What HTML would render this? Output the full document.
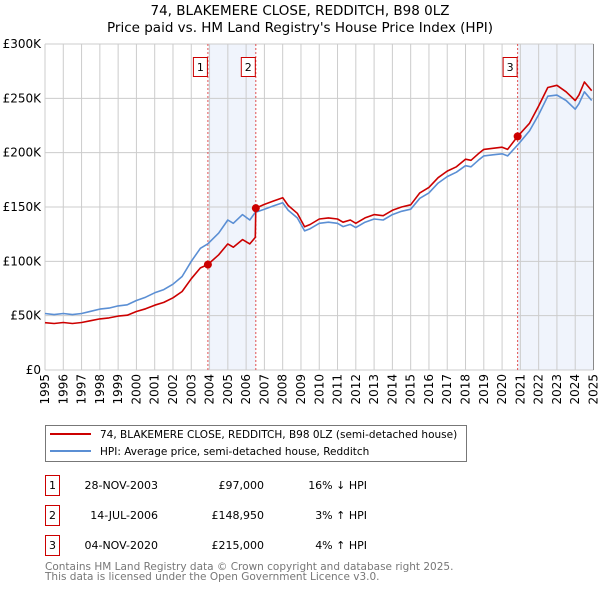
<!DOCTYPE html>
<html><head><meta charset="utf-8"><style>
body{margin:0;background:#fff;font-family:"DejaVu Sans","Liberation Sans",sans-serif;}
svg text{font-family:"DejaVu Sans","Liberation Sans",sans-serif;}
</style></head><body>
<svg id="chart" width="600" height="590" xmlns="http://www.w3.org/2000/svg">
<text x="300" y="15" text-anchor="middle" font-size="13.5">74, BLAKEMERE CLOSE, REDDITCH, B98 0LZ</text>
<text x="300" y="32" text-anchor="middle" font-size="13.5">Price paid vs. HM Land Registry's House Price Index (HPI)</text>
<g id="plot"></g>
<g>
<rect x="45.5" y="425.5" width="421" height="36" fill="#fff" stroke="#777"/>
<line x1="50" y1="434" x2="91" y2="434" stroke="#cc0000" stroke-width="2"/>
<text x="100" y="438" font-size="10.5">74, BLAKEMERE CLOSE, REDDITCH, B98 0LZ (semi-detached house)</text>
<line x1="50" y1="451" x2="91" y2="451" stroke="#5b8fd4" stroke-width="2"/>
<text x="100" y="455" font-size="10.5">HPI: Average price, semi-detached house, Redditch</text>
</g>
<g font-size="11">
<rect x="45.5" y="475.5" width="14" height="20" fill="#fff" stroke="#cc0000"/>
<text x="52.5" y="489" text-anchor="middle">1</text>
<text x="158" y="489" text-anchor="end">28-NOV-2003</text>
<text x="264" y="489" text-anchor="end">£97,000</text>
<text x="367" y="489" text-anchor="end">16% ↓ HPI</text>
<rect x="45.5" y="505.5" width="14" height="20" fill="#fff" stroke="#cc0000"/>
<text x="52.5" y="519" text-anchor="middle">2</text>
<text x="158" y="519" text-anchor="end">14-JUL-2006</text>
<text x="264" y="519" text-anchor="end">£148,950</text>
<text x="367" y="519" text-anchor="end">3% ↑ HPI</text>
<rect x="45.5" y="535.5" width="14" height="20" fill="#fff" stroke="#cc0000"/>
<text x="52.5" y="549" text-anchor="middle">3</text>
<text x="158" y="549" text-anchor="end">04-NOV-2020</text>
<text x="264" y="549" text-anchor="end">£215,000</text>
<text x="367" y="549" text-anchor="end">4% ↑ HPI</text>
</g>
<text x="45" y="570" font-size="10.5" fill="#777">Contains HM Land Registry data © Crown copyright and database right 2025.</text>
<text x="45" y="580" font-size="10.5" fill="#777">This data is licensed under the Open Government Licence v3.0.</text>
</svg>
<script>
const hpiYears=[1995,1995.5,1996,1996.5,1997,1997.5,1998,1998.5,1999,1999.5,2000,2000.5,2001,2001.5,2002,2002.5,2003,2003.5,2003.9,2004.5,2005,2005.3,2005.8,2006.2,2006.5,2007,2007.5,2008,2008.3,2008.8,2009.2,2009.5,2010,2010.5,2011,2011.3,2011.7,2012,2012.5,2013,2013.5,2014,2014.5,2015,2015.5,2016,2016.5,2017,2017.5,2018,2018.3,2018.7,2019,2019.5,2020,2020.3,2020.9,2021.5,2022,2022.5,2023,2023.5,2024,2024.2,2024.5,2024.9];
const hpiValues=[52,51,52,51,52,54,56,57,59,60,64,67,71,74,79,86,100,112,116,126,138,135,143,138,145,148,151,154,147,140,128,130,135,136,135,132,134,131,136,139,138,143,146,148,158,163,172,178,182,188,187,193,197,198,199,197,208,220,235,252,253,248,240,245,256,248];
const redYears=[1995,1995.5,1996,1996.5,1997,1997.5,1998,1998.5,1999,1999.5,2000,2000.5,2001,2001.5,2002,2002.5,2003,2003.5,2003.9,2004.5,2005,2005.3,2005.8,2006.2,2006.5,2006.53,2007,2007.5,2008,2008.3,2008.8,2009.2,2009.5,2010,2010.5,2011,2011.3,2011.7,2012,2012.5,2013,2013.5,2014,2014.5,2015,2015.5,2016,2016.5,2017,2017.5,2018,2018.3,2018.7,2019,2019.5,2020,2020.3,2020.85,2021.5,2022,2022.5,2023,2023.5,2024,2024.2,2024.5,2024.9];
const redValues=[43.5,42.8,43.7,42.8,43.7,45.4,47,47.9,49.6,50.4,53.8,56.3,59.6,62.2,66.4,72.2,84,94,97,106,116,113,120,116,122,149,152.4,155.5,158.6,151.4,144.2,131.8,133.9,139,140,139,136,138,135,140,143,142,147,150,152,163,168,177,183,187,194,193,199,203,204,205,203,215,227,243,260,262,256,248,253,265,257];
const saleLabels=["1","2","3"];
const saleYears=[2003.91,2006.53,2020.85];
const salePrices=[97,148.95,215];
const yTicks=[0,50,100,150,200,250,300];
const yTickLabels=["£0","£50K","£100K","£150K","£200K","£250K","£300K"];
const xTicks=[1995,1996,1997,1998,1999,2000,2001,2002,2003,2004,2005,2006,2007,2008,2009,2010,2011,2012,2013,2014,2015,2016,2017,2018,2019,2020,2021,2022,2023,2024,2025];

const X0=45,X1=593.5,Y0=370,Y1=44;
const xs=v=>X0+(v-1995)/30*(X1-X0);
const ys=v=>Y0-v/300*(Y0-Y1);
const NS="http://www.w3.org/2000/svg";
const plot=document.getElementById('plot');
function mk(tag,attrs,parent){const e=document.createElementNS(NS,tag);for(const k in attrs)e.setAttribute(k,attrs[k]);(parent||plot).appendChild(e);return e;}

let s1=mk('rect',{x:xs(saleYears[0]),y:Y1,width:xs(saleYears[1])-xs(saleYears[0]),height:Y0-Y1,fill:'#f0f4fc'});


let s2=mk('rect',{x:xs(saleYears[2]),y:Y1,width:X1-xs(saleYears[2]),height:Y0-Y1,fill:'#f0f4fc'});



yTicks.forEach((t,i)=>{
  const g=mk('line',{x1:X0,x2:X1,y1:ys(t),y2:ys(t),stroke:'#ccc','stroke-width':1});
  
  
  const l=mk('text',{x:X0-4,y:ys(t)+4,'text-anchor':'end','font-size':12});
  
  
  l.textContent=yTickLabels[i];
});
xTicks.forEach(t=>{
  const g=mk('line',{x1:xs(t),x2:xs(t),y1:Y1,y2:Y0,stroke:'#ccc','stroke-width':1});
  
  
  const l=mk('text',{x:0,y:0,'text-anchor':'end','font-size':12,transform:`translate(${xs(t)+4},374) rotate(-90)`});
  
  
  l.textContent=t;
});
const rb=mk('line',{x1:X1,x2:X1,y1:Y1,y2:Y0,stroke:'#888','stroke-width':1});



saleYears.forEach((y,i)=>{
  const l=mk('line',{x1:xs(y),x2:xs(y),y1:Y1,y2:Y0,stroke:'#e05050','stroke-width':1,'stroke-dasharray':'2,2'});
  
  
  const b=mk('rect',{x:xs(y)-14.5,y:57.5,width:14,height:19,fill:'#fff',stroke:'#cc0000'});
  
  
  const t=mk('text',{x:xs(y)-7.5,y:71,'text-anchor':'middle','font-size':11});
  
  
  t.textContent=saleLabels[i];
});

const pts=(xa,va)=>xa.map((x,i)=>xs(x).toFixed(1)+','+ys(va[i]).toFixed(1)).join(' ');
const hl=mk('polyline',{points:pts(hpiYears,hpiValues),fill:'none',stroke:'#5b8fd4','stroke-width':1.6,'stroke-linejoin':'round'});


const pl=mk('polyline',{points:pts(redYears,redValues),fill:'none',stroke:'#cc0000','stroke-width':1.6,'stroke-linejoin':'round'});


saleYears.forEach((y,i)=>{
  const c=mk('circle',{cx:xs(y),cy:ys(salePrices[i]),r:4,fill:'#cc0000'});
  
  
});
</script>
</body></html>
